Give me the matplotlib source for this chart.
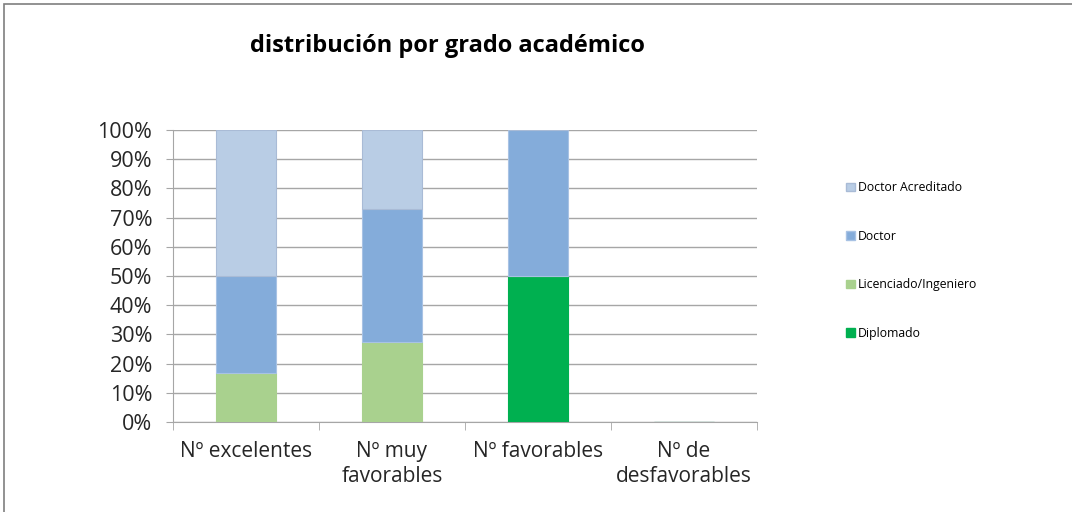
import matplotlib
matplotlib.use("Agg")
import matplotlib.pyplot as plt
from matplotlib.patches import Rectangle, Patch
from matplotlib.ticker import FixedLocator, PercentFormatter

categories = ["Nº excelentes", "Nº muy\nfavorables", "Nº favorables", "Nº de\ndesfavorables"]
series_names = ["Diplomado", "Licenciado/Ingeniero", "Doctor", "Doctor Acreditado"]
diplomado = [0.0, 0.0, 50.0, 0.0]
licenciado = [16.7, 27.3, 0.0, 0.0]
doctor = [33.3, 45.5, 50.0, 0.0]
doctor_acreditado = [50.0, 27.2, 0.0, 0.0]
colors = ["#00B050", "#A9D18E", "#84ACDA", "#B9CDE5"]
edges = ["#00B050", "#A9D18E", "#A8C2E4", "#A9BBD6"]

plt.rcParams['font.family'] = ['Open Sans', 'DejaVu Sans']

fig = plt.figure(figsize=(10.72, 5.12), dpi=100)
ax = fig.add_axes([173/1072, 1-422/512, (757-173)/1072, (422-130)/512])

x = list(range(len(categories)))
bottom = [0.0]*len(categories)
handles = []
for name, vals, c, ec in zip(series_names, [diplomado, licenciado, doctor, doctor_acreditado], colors, edges):
    ax.bar(x, vals, width=0.405, bottom=bottom, color=c, edgecolor=ec, linewidth=0.8, zorder=3)
    bottom = [b+v for b, v in zip(bottom, vals)]
    handles.append(Patch(facecolor=c, edgecolor=ec, label=name))

ax.set_xlim(-0.5, 3.5)
ax.set_ylim(0, 100)
ax.set_yticks(range(0, 101, 10))
ax.yaxis.set_major_formatter(PercentFormatter(decimals=0))
ax.grid(axis='y', color='#A6A6A6', linewidth=1, zorder=0)
for s in ['top', 'right']:
    ax.spines[s].set_visible(False)
ax.spines['left'].set_color('#A6A6A6')
ax.spines['bottom'].set_color('#A6A6A6')
ax.tick_params(axis='y', length=5, color='#A6A6A6', labelsize=15.5, labelcolor='#262626', pad=10)
ax.set_xticks(x)
ax.set_xticklabels(categories, fontsize=15, color='#262626', linespacing=1.25)
ax.tick_params(axis='x', length=0, pad=14)
ax.xaxis.set_minor_locator(FixedLocator([-0.5, 0.5, 1.5, 2.5, 3.5]))
ax.tick_params(axis='x', which='minor', length=6, color='#A6A6A6')

fig.text(447/1072, 1-46/512, "distribución por grado académico", fontsize=17, fontweight='bold',
         ha='center', va='center', color='black')

leg = fig.legend(handles=handles[::-1], loc='center left', bbox_to_anchor=(835/1072, 1-260.5/512),
                 frameon=False, fontsize=8.8, handlelength=0.7, handleheight=0.7,
                 labelspacing=2.9, handletextpad=0.3)

fig.add_artist(Rectangle((4/1072, -0.1), 1.2, 1-4/512+0.1, transform=fig.transFigure,
                         fill=False, edgecolor='#7F7F7F', linewidth=1.2))

fig.savefig("out.png", dpi=100)
